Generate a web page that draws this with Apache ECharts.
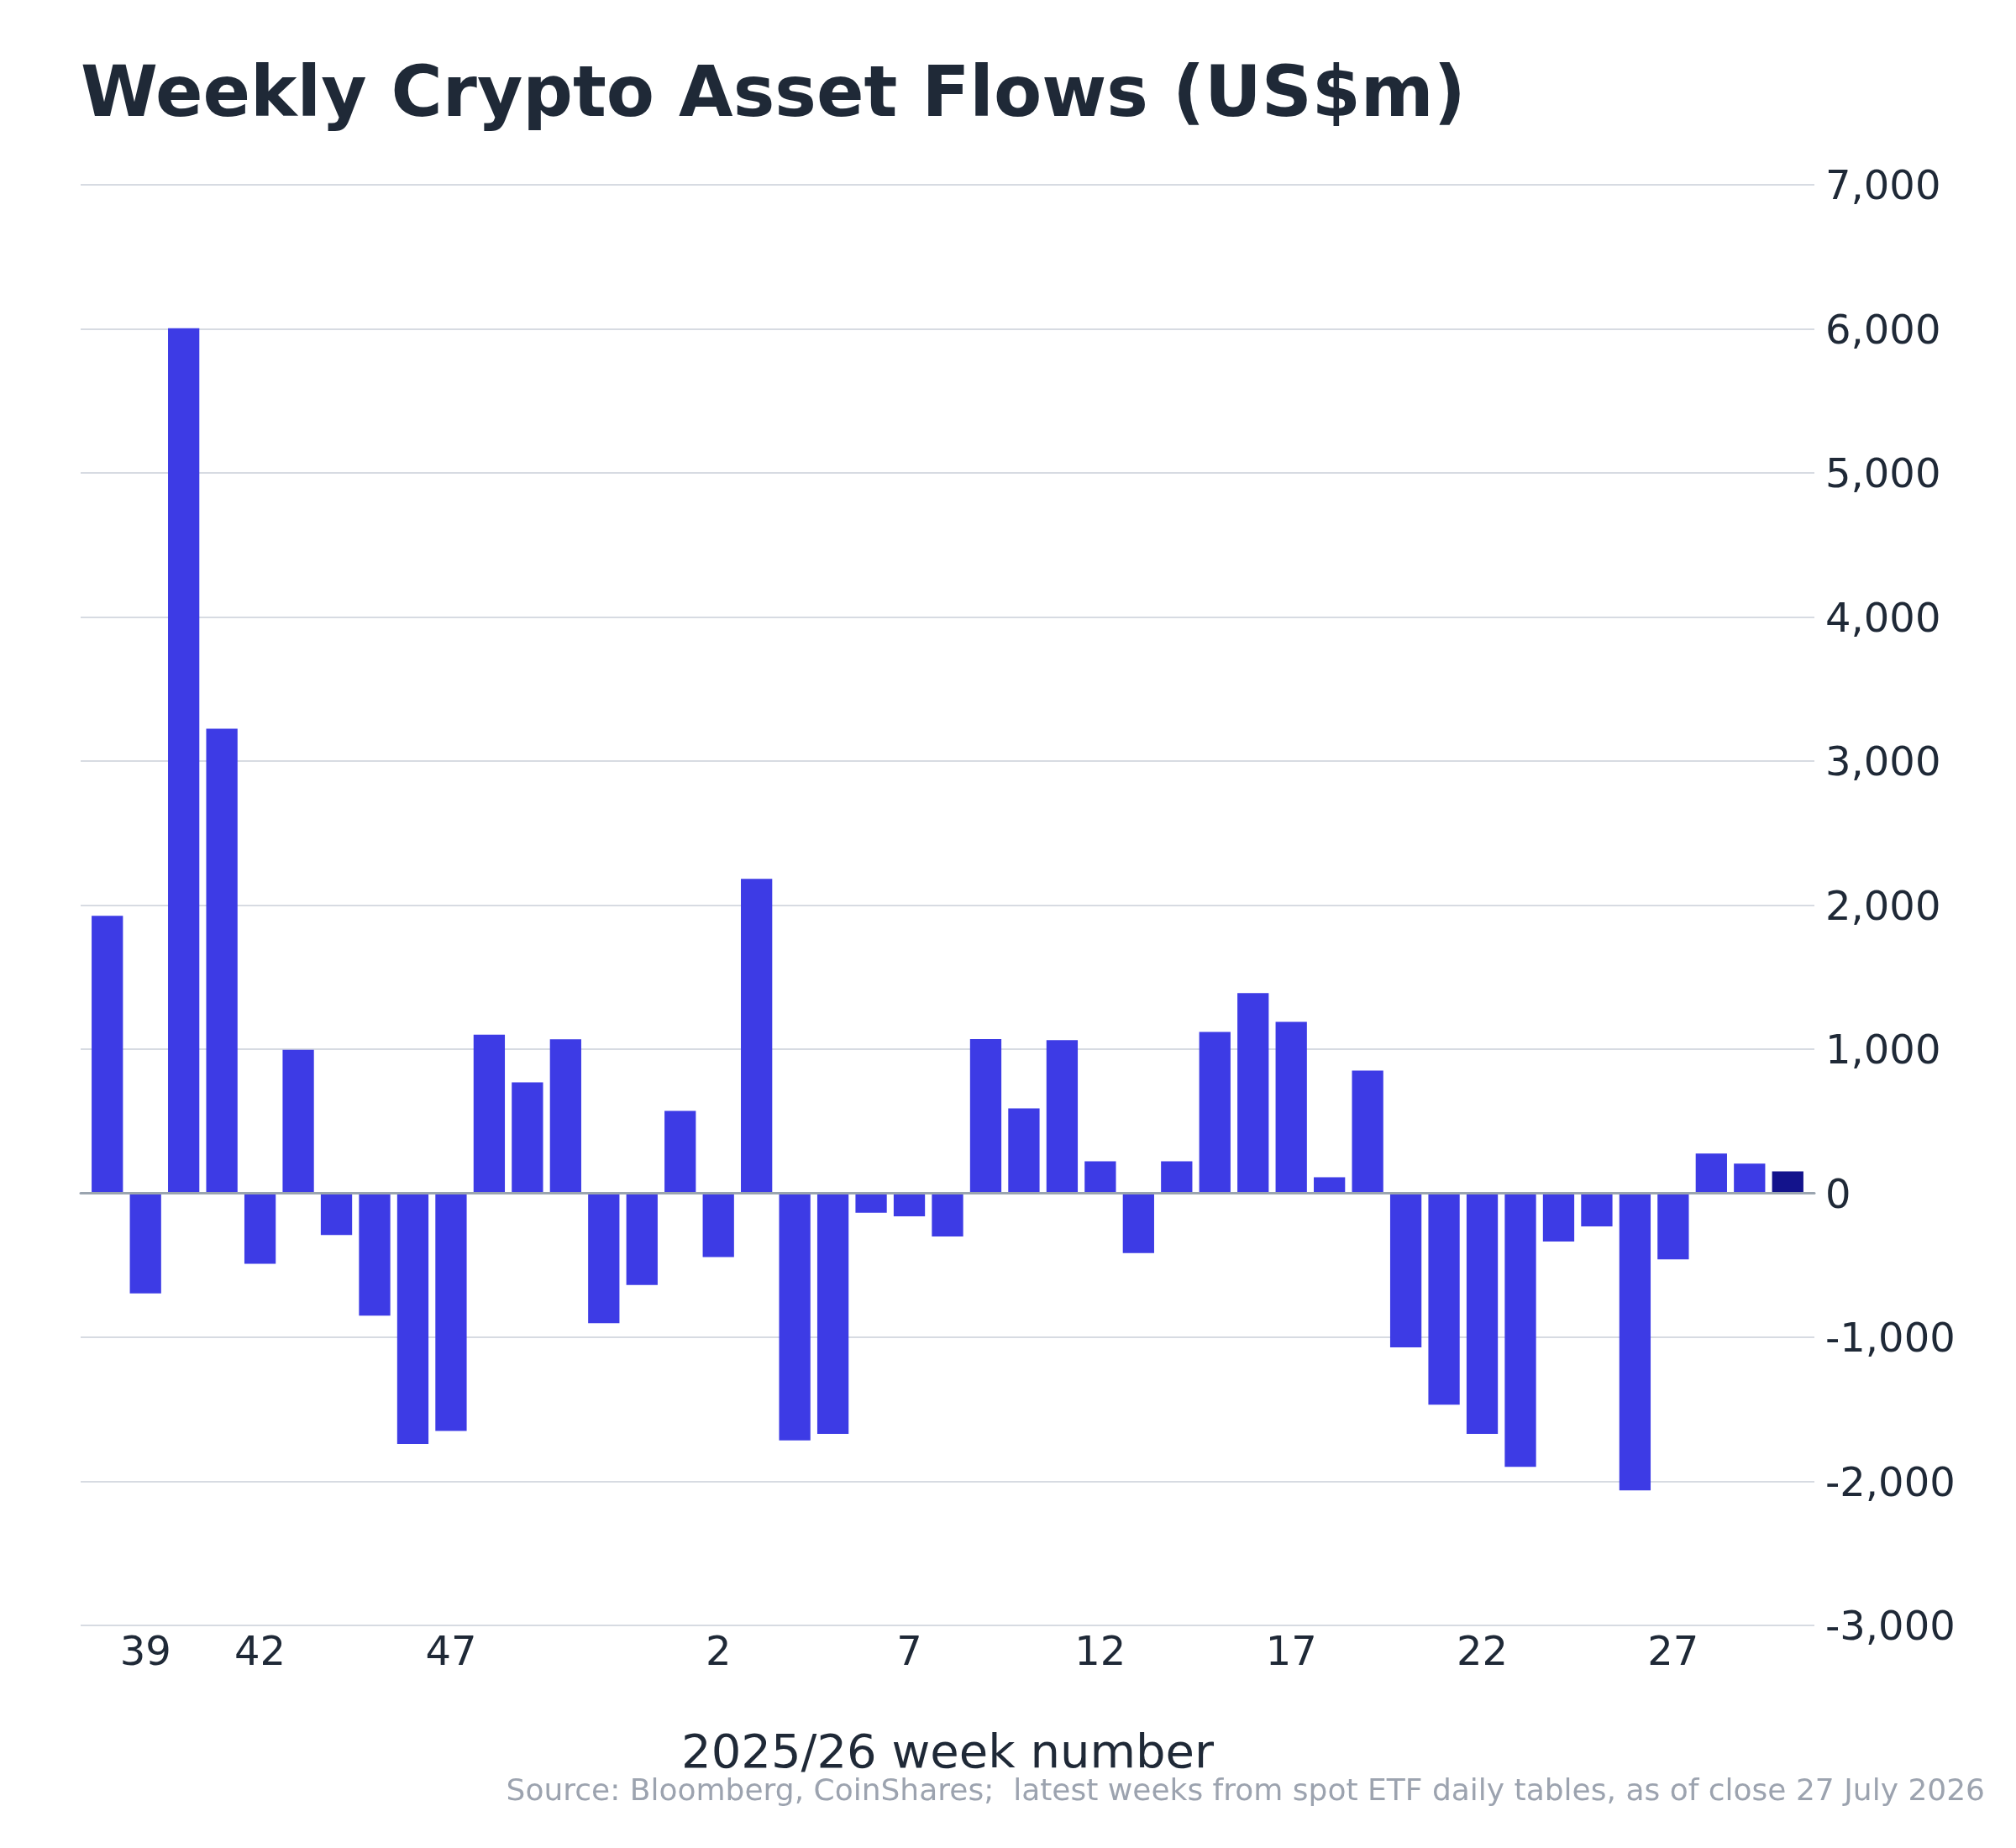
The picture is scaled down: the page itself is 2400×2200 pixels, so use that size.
<!DOCTYPE html>
<html>
<head>
<meta charset="utf-8">
<title>Weekly Crypto Asset Flows</title>
<script src="https://cdn.jsdelivr.net/npm/echarts@6/dist/echarts.min.js"></script>
<style>
  html, body { margin: 0; padding: 0; background: #ffffff; }
  #chart { width: 2400px; height: 2200px; }
</style>
</head>
<body>
<div id="chart"></div>
<script>
// week numbers, 2025 wk38 .. 2026 wk30
var weeks = ['38','39','40','41','42','43','44','45','46','47','48','49','50','51','52',
  '1','2','3','4','5','6','7','8','9','10','11','12','13','14','15',
  '16','17','18','19','20','21','22','23','24','25','26','27','28','29','30'];

// weekly net flows, US$m
var flows = [1925, -695, 6005, 3225, -490, 995, -290, -850, -1740, -1650, 1100, 770, 1068, -902, -637,
  572, -443, 2182, -1716, -1670, -136, -160, -300, 1070, 589, 1063, 222, -416, 222, 1120,
  1389, 1190, 111, 851, -1070, -1468, -1671, -1899, -335, -231, -2063, -459, 275, 206, 152];

// which week labels are printed on the x axis
var shownWeeks = ['39', '42', '47', '2', '7', '12', '17', '22', '27'];

var yMin = -3000, yMax = 7000, yStep = 1000;

var font = 'DejaVu Sans';
var barColor = '#3d3be5';
var lastColor = '#13138c';

var chart = echarts.init(document.getElementById('chart'));

var barData = flows.map(function (v, i) {
  if (i === flows.length - 1) {
    return { value: v, itemStyle: { color: lastColor } };
  }
  return v;
});

var option = {
  animation: false,
  backgroundColor: '#ffffff',
  title: {
    text: 'Weekly Crypto Asset Flows (US$m)',
    left: 91,
    top: 70,
    textStyle: { fontFamily: font, fontSize: 83.4, fontWeight: 'bold', color: '#1f2937' }
  },
  grid: [
    // bars
    { left: 105, right: 249, top: 220, bottom: 265 },
    // gridlines and zero line (a bit wider)
    { left: 96, right: 240, top: 220, bottom: 265 },
    // value labels, nudged down a few px
    { left: 96, right: 240, top: 225, bottom: 260 }
  ],
  xAxis: [
    {
      type: 'category',
      gridIndex: 0,
      data: weeks,
      name: '2025/26 week number',
      nameLocation: 'middle',
      nameGap: 126,
      nameTextStyle: { fontFamily: font, fontSize: 56, color: '#1f2937' },
      axisLine: { show: false },
      axisTick: { show: false },
      axisLabel: {
        fontFamily: font, fontSize: 48, color: '#1f2937', margin: 11,
        interval: function (idx, val) { return shownWeeks.indexOf(val) >= 0; }
      }
    },
    {
      type: 'value',
      gridIndex: 1,
      min: 0, max: 1,
      z: 5,
      axisLine: { show: true, onZero: true, lineStyle: { color: '#9aa4af', width: 3 } },
      axisTick: { show: false },
      axisLabel: { show: false },
      splitLine: { show: false }
    },
    { type: 'value', gridIndex: 2, show: false }
  ],
  yAxis: [
    {
      type: 'value',
      gridIndex: 0,
      min: yMin, max: yMax, interval: yStep,
      show: false
    },
    {
      type: 'value',
      gridIndex: 1,
      position: 'right',
      min: yMin, max: yMax, interval: yStep,
      axisLine: { show: false },
      axisTick: { show: false },
      axisLabel: { show: false },
      splitLine: { lineStyle: { color: '#d7dbe2', width: 2 } }
    },
    {
      type: 'value',
      gridIndex: 2,
      position: 'right',
      min: yMin, max: yMax, interval: yStep,
      axisLine: { show: false },
      axisTick: { show: false },
      splitLine: { show: false },
      axisLabel: {
        fontFamily: font, fontSize: 48, color: '#1f2937', margin: 13, align: 'left',
        formatter: function (v) { return v.toLocaleString('en-US'); }
      }
    }
  ],
  series: [{
    type: 'bar',
    xAxisIndex: 0,
    yAxisIndex: 0,
    data: barData,
    barCategoryGap: '18%',
    itemStyle: { color: barColor }
  }],
  graphic: [{
    type: 'text',
    right: 2400 - 2363,
    top: 2116,
    style: {
      text: 'Source: Bloomberg, CoinShares;  latest weeks from spot ETF daily tables, as of close 27 July 2026',
      fontFamily: font, fontSize: 36, fill: '#9ca3af'
    }
  }]
};

chart.setOption(option);
</script>
</body>
</html>
